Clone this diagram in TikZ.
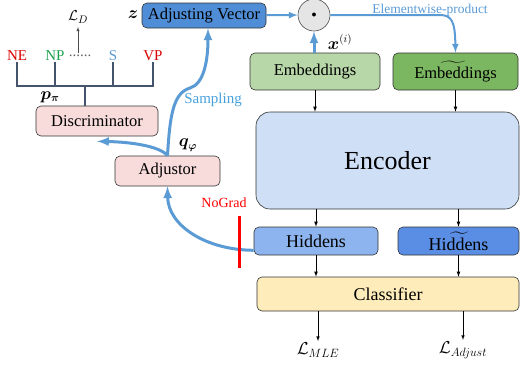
\documentclass[tikz,border=0pt]{standalone}
\usepackage{amsmath,amssymb}
\usepackage{fontspec}
\setmainfont{Liberation Serif}

\definecolor{arrowblue}{RGB}{91,155,213}
\definecolor{textblue}{RGB}{70,160,220}
\definecolor{vecblue}{RGB}{79,142,214}
\definecolor{embgreen}{RGB}{183,215,168}
\definecolor{embtgreen}{RGB}{123,182,97}
\definecolor{encblue}{RGB}{207,223,246}
\definecolor{hidblue}{RGB}{141,180,238}
\definecolor{hidtblue}{RGB}{90,142,228}
\definecolor{clsyellow}{RGB}{254,236,186}
\definecolor{advpink}{RGB}{248,220,220}
\definecolor{treegray}{RGB}{68,84,106}
\definecolor{npgreen}{RGB}{30,160,80}

\begin{document}
\begin{tikzpicture}[x=1pt,y=1pt,->,>=latex,line width=0.8pt]
    \tikzstyle{block}=[draw=black!80,line width=0.6pt,rounded corners=5pt,inner sep=0pt,text centered,font=\fontsize{16.5}{18}\selectfont]
    \tikzstyle{pink block}=[block,fill=advpink]
    \tikzstyle{blue arrow}=[draw=arrowblue,line width=3pt,-latex]
    \tikzstyle{thin blue arrow}=[draw=arrowblue,line width=2pt,-latex]
    \tikzstyle{tree}=[-,draw=treegray,line width=2pt]
    \tikzstyle{leaf}=[anchor=south,inner sep=1pt,font=\fontsize{15}{16}\selectfont]

    \useasboundingbox (0,0) rectangle (520,-365);

    % Main branch: embeddings, encoder, hiddens, classifier
    \node[block,fill=vecblue,minimum width=124,minimum height=25] (adjvec) at (204,-15.5) {Adjusting Vector};
    \node[circle,draw=black!70,fill=black!10,line width=0.6pt,minimum size=32,inner sep=0pt] (dot) at (314,-15) {$\bullet$};
    \node[block,fill=embgreen,minimum width=130,minimum height=37] (emb) at (315,-71.5) {Embeddings};
    \node[block,fill=embtgreen,minimum width=125,minimum height=37] (embt) at (455.5,-71.5) {Em$\widetilde{\text{bedd}}$ings};
    \node[block,fill=encblue,rounded corners=14pt,minimum width=263,minimum height=97,font=\fontsize{26}{28}\selectfont] (enc) at (387.5,-160.5) {Encoder};
    \node[block,fill=hidblue,minimum width=124,minimum height=28,font=\fontsize{18}{20}\selectfont] (hid) at (316,-241) {Hiddens};
    \node[block,fill=hidtblue,minimum width=121,minimum height=28,font=\fontsize{18}{20}\selectfont] (hidt) at (458.5,-241) {Hi$\widetilde{\text{dde}}$ns};
    \node[block,fill=clsyellow,minimum width=262,minimum height=34,font=\fontsize{18}{20}\selectfont] (cls) at (388,-294) {Classifier};
    \node[font=\fontsize{17}{18}\selectfont] (mle) at (318,-350) {$\mathcal{L}_{MLE}$};
    \node[font=\fontsize{17}{18}\selectfont] (ladj) at (463,-350) {$\mathcal{L}_{Adjust}$};

    % Adversarial branch
    \node[pink block,minimum width=105,minimum height=30] (adj) at (167.5,-171) {Adjustor};
    \node[pink block,minimum width=122,minimum height=30] (disc) at (97,-121) {Discriminator};

    % Labels
    \node[font=\fontsize{16}{18}\selectfont] (z) at (133,-15) {$\boldsymbol{z}$};
    \node[font=\fontsize{16}{18}\selectfont] (xi) at (340,-42) {$\boldsymbol{x}^{(i)}$};
    \node[font=\fontsize{16}{18}\selectfont] (qphi) at (188,-145) {$\boldsymbol{q_\varphi}$};
    \node[font=\fontsize{16}{18}\selectfont] (ppi) at (50,-97) {$\boldsymbol{p_\pi}$};
    \node[text=textblue,font=\fontsize{15}{16}\selectfont] (samp) at (213,-100) {Sampling};
    \node[text=arrowblue,font=\fontsize{13.5}{15}\selectfont] (elem) at (430,-10) {Elementwise-product};
    \node[text=red,font=\fontsize{14}{16}\selectfont] (nograd) at (224,-203) {NoGrad};
    \coordinate (cuttop) at (239,-216);
    \coordinate (cutbot) at (239,-268);

    % Tree of the discriminator outputs
    \node[leaf,text=red!85!black] (ne) at (17,-62) {NE};
    \node[leaf,text=npgreen] (np) at (55,-62) {NP};
    \node[leaf,text=arrowblue] (s) at (113,-62) {S};
    \node[leaf,text=red!85!black] (vp) at (153,-62) {VP};
    \node[leaf,text=black!60] (dots) at (80,-58) {......};
    \node[font=\fontsize{15}{16}\selectfont] (ld) at (78,-17) {$\mathcal{L}_D$};
    \coordinate (stem) at (85,-86);

    \draw[tree] (ne.south) -- (ne.south |- stem) -- (vp.south |- stem) -- (vp.south);
    \draw[tree] (np.south) -- (np.south |- stem);
    \draw[tree] (s.south) -- (s.south |- stem);
    \draw[tree] (stem) -- (stem |- disc.north);
    \draw[line width=0.5pt,black!70] (ld.south |- dots.north) -- (ld.south);

    % Black arrows of the main branch
    \path (emb) edge (emb |- enc.north);
    \path (embt) edge (embt |- enc.north);
    \path (enc.south -| hid) edge (hid.north);
    \path (enc.south -| hidt) edge (hidt.north);
    \path (hid) edge (hid |- cls.north);
    \path (hidt) edge (hidt |- cls.north);
    \draw[line width=0.6pt] (cls.south -| mle) -- ([yshift=-2pt]mle.north);
    \draw[line width=0.6pt] (cls.south -| ladj) -- ([yshift=-2pt]ladj.north);

    % Blue arrows
    \draw[thin blue arrow] (adjvec) -- (dot);
    \draw[blue arrow] (dot.south |- emb.north) -- (dot.south);
    \draw[thin blue arrow] (dot.east) -- (440,-15) .. controls (452,-15) and (455,-22) .. (embt.north);
    \draw[blue arrow] ([yshift=5pt]hid.south west) .. controls (205,-250) and (168,-225) .. (adj.south);
    \draw[blue arrow] (adj.north) .. controls (170,-112) and (174,-93) .. (190,-88)
        .. controls (204,-84) and (208,-60) .. ([xshift=4pt]adjvec.south);
    \draw[blue arrow] (adj.north) .. controls (160,-146) and (130,-142) .. ([yshift=-5pt]disc.south);

    % Gradient stop
    \draw[-,red,line width=3pt] (cuttop) -- (cutbot);
\end{tikzpicture}
\end{document}
